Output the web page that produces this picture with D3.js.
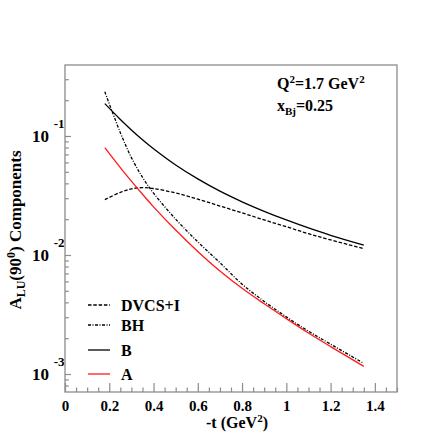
<!DOCTYPE html>
<html>
<head>
<meta charset="utf-8">
<script src="https://cdn.jsdelivr.net/npm/d3@7"></script>
<style>
  body { margin: 0; background: #fff; }
  svg { display: block; }
  .frame { fill: none; stroke: #8c8c8c; stroke-width: 1.3; }
  .ax line { stroke: #8c8c8c; stroke-width: 1.2; }
  .ax path { display: none; }
  .curve { fill: none; stroke-width: 1.3; }
</style>
</head>
<body>
<svg id="chart" width="436" height="436"></svg>
<script>
// -t values where the curves are sampled (GeV^2)
var tVals  = [0.18, 0.25, 0.3, 0.35, 0.4, 0.5, 0.6, 0.7, 0.8, 0.9, 1.0, 1.1, 1.2, 1.35];
// A_LU(90 deg) components
var dvcsI  = [0.0292, 0.0336, 0.0360, 0.0368, 0.0362, 0.0332, 0.0295, 0.0258, 0.0226, 0.0197, 0.0173, 0.0151, 0.0134, 0.0113];
var bhVals = [0.235, 0.1067, 0.0658, 0.0450, 0.0331, 0.0200, 0.0129, 0.00861, 0.00569, 0.00407, 0.00302, 0.00229, 0.00178, 0.00123];
var bVals  = [0.187, 0.1377, 0.1125, 0.0931, 0.0782, 0.0571, 0.0436, 0.0344, 0.0280, 0.0233, 0.0197, 0.01687, 0.01462, 0.01209];
var aVals  = [0.080, 0.0543, 0.0417, 0.0324, 0.0254, 0.0162, 0.0107, 0.00733, 0.00525, 0.00389, 0.00292, 0.00221, 0.0017, 0.00116];

var xTicks = [0, 0.2, 0.4, 0.6, 0.8, 1, 1.2, 1.4];
var yDecades = [-1, -2, -3];

var seriesList = [
  { name: "DVCS+I", values: dvcsI,  color: "#000", dash: "3.5,1.8" },
  { name: "BH",     values: bhVals, color: "#000", dash: "3,1.5,1,1.5" },
  { name: "B",      values: bVals,  color: "#000", dash: null },
  { name: "A",      values: aVals,  color: "#ff1a1a", dash: null }
];

( function() {
  var svg = d3.select( "#chart" );
  var L = 65, R = 397, T = 65, B = 392;

  var x = d3.scaleLinear().domain( [ 0, 1.5 ] ).range( [ L, R ] );
  var y = d3.scaleLog().domain( [ 7.06e-4, 0.395 ] ).range( [ B, T ] );

  // minor ticks
  var xMinor = d3.range( 0, 1.5001, 0.05 ).filter( function( v ) { return Math.abs( v / 0.2 - Math.round( v / 0.2 ) ) > 1e-6; } );
  var yMajor = yDecades.map( function( e ) { return Math.pow( 10, e ); } );
  var yMinor = [];
  [ -4, -3, -2, -1 ].forEach( function( e ) {
    for( var k = 2; k <= 9; k++ ) {
      var v = k * Math.pow( 10, e );
      if( v > y.domain()[0] && v < y.domain()[1] ) yMinor.push( v );
    }
  } );

  svg.append( "g" ).attr( "class", "ax" ).attr( "transform", "translate(0," + B + ")" )
     .call( d3.axisBottom( x ).tickValues( xMinor ).tickSize( -4.5 ).tickFormat( "" ) );
  var xa = svg.append( "g" ).attr( "class", "ax" ).attr( "transform", "translate(0," + B + ")" )
     .call( d3.axisBottom( x ).tickValues( xTicks ).tickSize( -9 ).tickPadding( 8 )
       .tickFormat( function( d ) { return String( +d.toFixed( 1 ) ); } ) );
  xa.selectAll( "text" ).style( "font-size", "15px" );

  svg.append( "g" ).attr( "class", "ax" ).attr( "transform", "translate(" + L + ",0)" )
     .call( d3.axisLeft( y ).tickValues( yMinor ).tickSize( -3.8 ).tickFormat( "" ) );
  svg.append( "g" ).attr( "class", "ax" ).attr( "transform", "translate(" + L + ",0)" )
     .call( d3.axisLeft( y ).tickValues( yMajor ).tickSize( -6 ).tickFormat( "" ) );

  // 10^n labels
  var yl = svg.append( "g" );
  yDecades.forEach( function( e ) {
    var py = y( Math.pow( 10, e ) );
    yl.append( "text" ).attr( "x", 49 ).attr( "y", py + 6 ).attr( "text-anchor", "end" )
      .style( "font-size", "17px" ).text( "10" );
    yl.append( "text" ).attr( "x", 64.5 ).attr( "y", py - 8 ).attr( "text-anchor", "end" )
      .style( "font-size", "13px" ).text( "-" + ( -e ) );
  } );

  svg.append( "rect" ).attr( "class", "frame" )
     .attr( "x", L ).attr( "y", T ).attr( "width", R - L ).attr( "height", B - T );

  // curves
  var line = d3.line()
    .x( function( d ) { return x( d[0] ); } )
    .y( function( d ) { return y( d[1] ); } )
    .curve( d3.curveCatmullRom.alpha( 0.5 ) );

  seriesList.forEach( function( s ) {
    svg.append( "path" ).attr( "class", "curve" )
       .attr( "d", line( tVals.map( function( t, i ) { return [ t, s.values[i] ]; } ) ) )
       .attr( "stroke", s.color )
       .attr( "stroke-dasharray", s.dash );
  } );

  // legend
  var legY = [ 305, 325, 350, 374 ];
  seriesList.forEach( function( s, i ) {
    svg.append( "line" ).attr( "x1", 88 ).attr( "x2", 110 ).attr( "y1", legY[i] ).attr( "y2", legY[i] )
       .attr( "stroke", s.color ).attr( "stroke-width", 1.3 ).attr( "stroke-dasharray", s.dash );
    svg.append( "text" ).attr( "x", 121 ).attr( "y", legY[i] + 5.5 )
       .style( "font-size", "16px" ).text( s.name );
  } );

  // annotations
  var q = svg.append( "text" ).attr( "x", 277 ).attr( "y", 89 ).style( "font-size", "16px" );
  q.append( "tspan" ).text( "Q" );
  q.append( "tspan" ).attr( "dy", -6 ).style( "font-size", "11px" ).text( "2" );
  q.append( "tspan" ).attr( "dy", 6 ).text( "=1.7 GeV" );
  q.append( "tspan" ).attr( "dy", -6 ).style( "font-size", "11px" ).text( "2" );

  var xb = svg.append( "text" ).attr( "x", 277 ).attr( "y", 110.5 ).style( "font-size", "16px" );
  xb.append( "tspan" ).text( "x" );
  xb.append( "tspan" ).attr( "dy", 4 ).style( "font-size", "11px" ).text( "Bj" );
  xb.append( "tspan" ).attr( "dy", -4 ).text( "=0.25" );

  // axis titles
  var xt = svg.append( "text" ).attr( "x", 237 ).attr( "y", 428 ).attr( "text-anchor", "middle" )
     .style( "font-size", "16px" );
  xt.append( "tspan" ).text( "-t (GeV" );
  xt.append( "tspan" ).attr( "dy", -6 ).style( "font-size", "11px" ).text( "2" );
  xt.append( "tspan" ).attr( "dy", 6 ).text( ")" );

  var yt = svg.append( "text" ).attr( "transform", "translate(21,230) rotate(-90)" )
     .attr( "text-anchor", "middle" ).style( "font-size", "17px" );
  yt.append( "tspan" ).text( "A" );
  yt.append( "tspan" ).attr( "dy", 4 ).style( "font-size", "12px" ).text( "LU" );
  yt.append( "tspan" ).attr( "dy", -4 ).text( "(90" );
  yt.append( "tspan" ).attr( "dy", -6 ).style( "font-size", "12px" ).text( "0" );
  yt.append( "tspan" ).attr( "dy", 6 ).text( ") Components" );

  // ROOT-like Times bold everywhere
  svg.selectAll( "text" )
     .style( "font-family", "'Liberation Serif'" )
     .style( "font-weight", "bold" )
     .style( "fill", "#000" );
} )();
</script>
</body>
</html>
